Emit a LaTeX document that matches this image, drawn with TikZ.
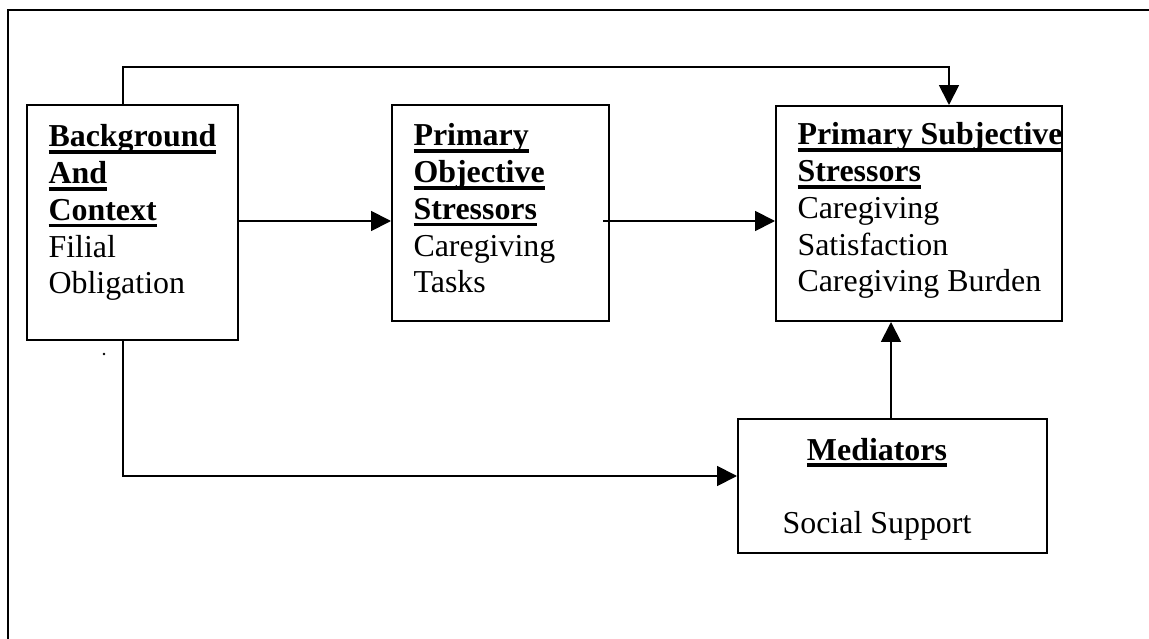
\documentclass[tikz,border=0pt]{standalone}
\usepackage{fontspec}
\setmainfont{Liberation Serif}
\usetikzlibrary{arrows.meta,fit}

% bold heading with a heavy underline
\newcommand\ulb[1]{\leavevmode\setbox0\hbox{\bfseries #1}\rlap{\rule[-2.6pt]{\wd0}{1.4pt}}\box0}

\begin{document}
\begin{tikzpicture}[x=0.376pt,y=-0.376pt,
  boxnode/.style={draw, line width=0.75pt, inner sep=0pt},
  txt/.style={inner sep=0pt, anchor=base west, font=\fontsize{12}{13.8}\selectfont},
  ctxt/.style={inner sep=0pt, anchor=base, font=\fontsize{12}{13.8}\selectfont},
  arr/.style={line width=0.7pt, -{Triangle[length=7.5pt,width=7.5pt]}}]
\useasboundingbox (0,0) rectangle (1149,639);

% outer frame (runs off the page to the right and bottom)
\draw[line width=1pt] (1149,10) -- (8,10) -- (8,639);

% boxes
\node[boxnode, fit={(27,105) (238,340)}] (A) {};
\node[boxnode, fit={(392,105) (609,321)}] (B) {};
\node[boxnode, fit={(776,106) (1062,321)}] (C) {};
\node[boxnode, fit={(738,419) (1047,553)}] (D) {};

% box texts
\node[txt] (At) at (48,147) {\parbox[t]{200pt}{\raggedright
  \ulb{Background}\\\ulb{And}\\\ulb{Context}\\Filial\\Obligation}};
\node[txt] (Bt) at (413,146) {\parbox[t]{200pt}{\raggedright
  \ulb{Primary}\\\ulb{Objective}\\\ulb{Stressors}\\Caregiving\\Tasks}};
\node[txt] (Ct) at (797,145) {\parbox[t]{200pt}{\raggedright
  \ulb{Primary Subjective}\\\ulb{Stressors}\\Caregiving\\Satisfaction\\Caregiving Burden}};
\node[ctxt] (Dt) at (877,460) {\parbox[t]{150pt}{\centering
  \ulb{Mediators}\\\mbox{}\\Social Support}};

% routing points
\coordinate (t1) at (123,67);
\coordinate (t2) at (949,67);
\coordinate (ab) at (300,221);
\coordinate (bc) at (603,221);
\coordinate (bl) at (123,476);

% connectors
\draw[arr] (A.north -| t1) -- (t1) -- (t2) -- (C.north -| t2);
\draw[arr] (A.east |- ab) -- (B.west |- ab);
\draw[arr] (bc) -- (C.west |- bc);
\draw[arr] (A.south -| bl) -- (bl) -- (D.west |- bl);
\draw[arr] (D.north -| 891,0) -- (C.south -| 891,0);

% stray mark below the first box
\fill (104,354) circle (1.4);
\end{tikzpicture}
\end{document}
